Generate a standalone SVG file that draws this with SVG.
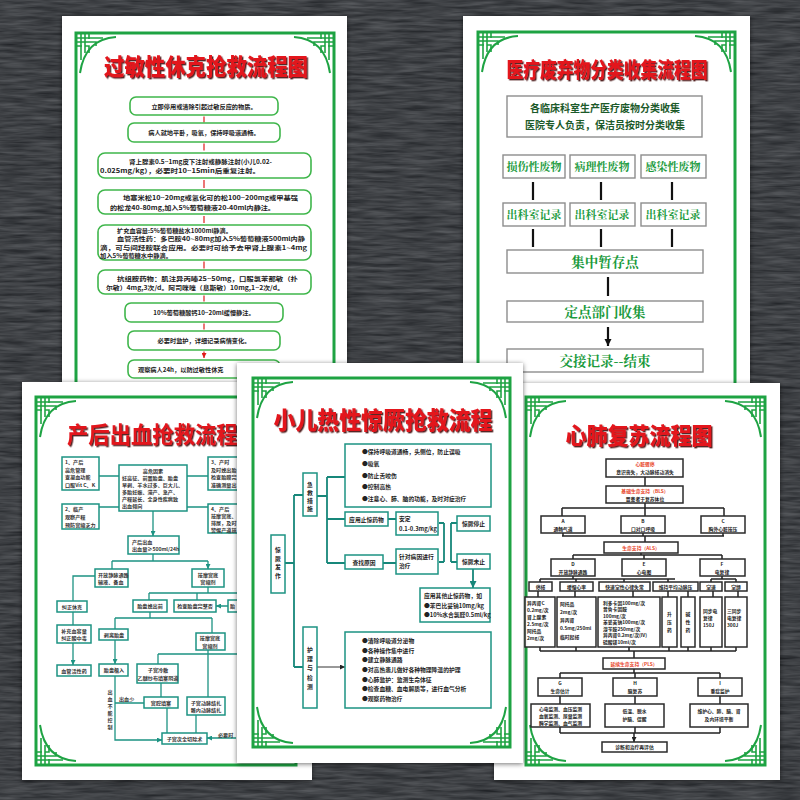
<svg xmlns="http://www.w3.org/2000/svg" xmlns:xlink="http://www.w3.org/1999/xlink" width="800" height="800" viewBox="0 0 800 800">
<style>
text{font-family:"Noto Sans CJK SC","Noto Sans",sans-serif;font-weight:700}
.paper{fill:#fff}
.gf{fill:none;stroke:#1ea343;stroke-width:3}
.gc{fill:none;stroke:#1ea343;stroke-width:1.6}
.ttl{font-weight:900;fill:#e3161d;text-anchor:middle}
.b1{fill:#fff;stroke:#3fb64b;stroke-width:1.6}
.t1{font-size:6.2px;fill:#222}
.t1s{font-size:5.8px;fill:#222}
.c{text-anchor:middle}
.b2{fill:#fff;stroke:#8d8d8d;stroke-width:1.4}
.t2a{font-size:10px;fill:#1c5a2a;text-anchor:middle}
.t2b{font-size:11px;fill:#1a9a3c;text-anchor:middle;font-family:"Noto Serif CJK SC","Noto Sans CJK SC",serif}
.t2c{font-size:13.5px;fill:#1a9a3c;text-anchor:middle;font-family:"Noto Serif CJK SC","Noto Sans CJK SC",serif}
.bt{fill:#fff;stroke:#1d9383;stroke-width:1.5}
.t3{font-size:5.1px;fill:#333}
.t4{font-size:5.8px;fill:#222}
.bk{fill:#fff;stroke:#2a2a2a;stroke-width:1.5}
.t5{font-size:4.8px;fill:#222}
.t5r{font-size:4.8px;fill:#e8452a}
.lr{fill:none;stroke:#e01b1b;stroke-width:1.2}
.lk{fill:none;stroke:#111;stroke-width:2.2}
.lt{fill:none;stroke:#1d9383;stroke-width:1.3}
.lt4{fill:none;stroke:#17877a;stroke-width:1.8}
.ld{fill:none;stroke:#222;stroke-width:1.5}
</style>
<defs>
<filter id="tex" x="0" y="0" width="100%" height="100%" color-interpolation-filters="sRGB">
<feTurbulence type="fractalNoise" baseFrequency="0.03 0.3" numOctaves="3" seed="7"/>
<feColorMatrix type="matrix" values="0.26 0 0 0 0.115  0.26 0 0 0 0.125  0.26 0 0 0 0.14  0 0 0 0 1"/>
</filter>
<filter id="sh" x="-10%" y="-10%" width="120%" height="120%">
<feDropShadow dx="0" dy="1" stdDeviation="2.5" flood-color="#000" flood-opacity="0.55"/>
</filter>
<filter id="tsh" x="-5%" y="-20%" width="110%" height="140%">
<feDropShadow dx="1.4" dy="1.4" stdDeviation="0.4" flood-color="#3a0000" flood-opacity="0.85"/>
</filter>
<marker id="aR" viewBox="0 0 10 10" refX="10" refY="5" markerWidth="5" markerHeight="5" markerUnits="userSpaceOnUse" orient="auto"><path d="M0,0 L10,5 L0,10z" fill="#e01b1b"/></marker>
<marker id="aK" viewBox="0 0 10 10" refX="10" refY="5" markerWidth="7" markerHeight="8" markerUnits="userSpaceOnUse" orient="auto"><path d="M0,0 L10,5 L0,10z" fill="#111"/></marker>
<marker id="aT" viewBox="0 0 10 10" refX="10" refY="5" markerWidth="5" markerHeight="5" markerUnits="userSpaceOnUse" orient="auto"><path d="M0,0 L10,5 L0,10z" fill="#1d9383"/></marker>
<marker id="aT4" viewBox="0 0 10 10" refX="10" refY="5" markerWidth="7" markerHeight="7" markerUnits="userSpaceOnUse" orient="auto"><path d="M0,0 L10,5 L0,10z" fill="#17877a"/></marker>
<marker id="aD" viewBox="0 0 10 10" refX="10" refY="5" markerWidth="5" markerHeight="5" markerUnits="userSpaceOnUse" orient="auto"><path d="M0,0 L10,5 L0,10z" fill="#222"/></marker>
<g id="cn">
<path class="gc" d="M0,5 H27 M0,9 H20 M0,13 H6 M5,0 V27 M9,0 V20 M13,0 V6 M13,9 H20 V13 M9,13 H13 V20"/>
<path d="M40,4 Q9,6 4,40" fill="none" stroke="#1ea343" stroke-width="2"/>
</g>
</defs>

<!-- background -->
<rect width="800" height="800" fill="#3b3e43"/>
<rect width="800" height="800" filter="url(#tex)"/>

<!-- ============ Poster 1 ============ -->
<g id="poster1">
<rect class="paper" x="62" y="16" width="285" height="380" filter="url(#sh)"/>
<rect class="gf" x="76" y="33" width="258" height="360"/>
<use href="#cn" transform="translate(76,33)"/>
<use href="#cn" transform="translate(334,33) scale(-1,1)"/>
<text class="ttl" x="206" y="75" font-size="23" textLength="204" lengthAdjust="spacingAndGlyphs" filter="url(#tsh)">过敏性休克抢救流程图</text>
<g id="p1-connectors">
<path class="lr" d="M204,116.5 V122.5 M204,143.5 V150.5 M204,180 V188 M204,216 V223 M204,261.5 V268.5 M204,295.5 V301.5 M204,323.5 V329.5 M204,351.5 V358" marker-end="url(#aR)"/>
</g>
<g id="p1-n1"><rect class="b1" x="130" y="97" width="148" height="18" rx="6"/><text class="t1 c" x="204" y="108.5">立即停用或清除引起过敏反应的物质。</text></g>
<g id="p1-n2"><rect class="b1" x="128" y="123" width="152" height="19" rx="6"/><text class="t1 c" x="204" y="135">病人就地平卧，吸氧，保持呼吸道通畅。</text></g>
<g id="p1-n3"><rect class="b1" x="98" y="153" width="213" height="25" rx="7"/>
<text class="t1" x="129" y="163.5" textLength="143" lengthAdjust="spacingAndGlyphs">肾上腺素0.5~1mg皮下注射或静脉注射(小儿0.02-</text>
<text class="t1" x="100" y="173" textLength="160" lengthAdjust="spacingAndGlyphs">0.025mg/kg），必要时10~15min后重复注射。</text></g>
<g id="p1-n4"><rect class="b1" x="98" y="190" width="213" height="24" rx="7"/>
<text class="t1" x="123" y="200" textLength="175" lengthAdjust="spacingAndGlyphs">地塞米松10~20mg或氢化可的松100~200mg或甲基强</text>
<text class="t1" x="110" y="209.5" textLength="165" lengthAdjust="spacingAndGlyphs">的松龙40-80mg,加入5%葡萄糖液20-40ml内静注。</text></g>
<g id="p1-n5"><rect class="b1" x="98" y="225" width="213" height="35" rx="7"/>
<text class="t1s" x="117" y="232.5" textLength="115" lengthAdjust="spacingAndGlyphs">扩充血容量:5%葡萄糖盐水1000ml静滴。</text>
<text class="t1s" x="117" y="241" textLength="188" lengthAdjust="spacingAndGlyphs">血管活性药：多巴胺40~80mg加入5%葡萄糖液500ml内静</text>
<text class="t1s" x="100" y="249.5" textLength="207" lengthAdjust="spacingAndGlyphs">滴，可与间羟胺联合应用。必要时可给予去甲肾上腺素1~4mg</text>
<text class="t1s" x="100" y="258" textLength="72" lengthAdjust="spacingAndGlyphs">加入5%葡萄糖水中静滴。</text></g>
<g id="p1-n6"><rect class="b1" x="98" y="270" width="213" height="24" rx="7"/>
<text class="t1" x="117" y="280.5" textLength="181" lengthAdjust="spacingAndGlyphs">抗组胺药物：肌注异丙嗪25~50mg，口服氯苯那敏（扑</text>
<text class="t1" x="106" y="290" textLength="178" lengthAdjust="spacingAndGlyphs">尔敏）4mg,3次/d。阿司咪唑（息斯敏）10mg,1~2次/d。</text></g>
<g id="p1-n7"><rect class="b1" x="125" y="303" width="158" height="19" rx="6"/><text class="t1 c" x="204" y="315">10%葡萄糖酸钙10~20ml缓慢静注。</text></g>
<g id="p1-n8"><rect class="b1" x="128" y="331" width="152" height="19" rx="6"/><text class="t1 c" x="204" y="343">必要时监护，详细记录病情变化。</text></g>
<g id="p1-n9"><rect class="b1" x="128" y="360" width="152" height="18" rx="6"/><text class="t1" x="138" y="371.5">观察病人24h，以防过敏性休克</text></g>
</g>

<!-- ============ Poster 2 ============ -->
<g id="poster2">
<rect class="paper" x="463" y="16" width="287" height="380" filter="url(#sh)"/>
<rect class="gf" x="478" y="32" width="257" height="360"/>
<use href="#cn" transform="translate(478,32)"/>
<use href="#cn" transform="translate(735,32) scale(-1,1)"/>
<text class="ttl" x="607" y="77" font-size="21" textLength="201" lengthAdjust="spacingAndGlyphs" filter="url(#tsh)">医疗废弃物分类收集流程图</text>
<g id="p2-connectors">
<path class="lk" d="M533,182 V200 M601,182 V200 M672,182 V200 M533,229 V247 M601,229 V247 M672,229 V247 M608,277 V296 M608,327 V346" marker-end="url(#aK)"/>
</g>
<g id="p2-n0"><rect class="b2" x="507" y="96" width="195" height="41"/>
<text class="t2a" x="605" y="112">各临床科室生产医疗废物分类收集</text>
<text class="t2a" x="605" y="129">医院专人负责，保洁员按时分类收集</text></g>
<g id="p2-n1"><rect class="b2" x="503" y="155" width="62" height="23"/><text class="t2b" x="534" y="170.5">损伤性废物</text></g>
<g id="p2-n2"><rect class="b2" x="570" y="155" width="65" height="23"/><text class="t2b" x="602" y="170.5">病理性废物</text></g>
<g id="p2-n3"><rect class="b2" x="641" y="155" width="65" height="23"/><text class="t2b" x="673" y="170.5">感染性废物</text></g>
<g id="p2-n4"><rect class="b2" x="503" y="203" width="62" height="23"/><text class="t2b" x="534" y="218.5">出科室记录</text></g>
<g id="p2-n5"><rect class="b2" x="570" y="203" width="65" height="23"/><text class="t2b" x="602" y="218.5">出科室记录</text></g>
<g id="p2-n6"><rect class="b2" x="641" y="203" width="65" height="23"/><text class="t2b" x="673" y="218.5">出科室记录</text></g>
<g id="p2-n7"><rect class="b2" x="507" y="250" width="196" height="23"/><text class="t2c" x="605" y="266.5">集中暂存点</text></g>
<g id="p2-n8"><rect class="b2" x="507" y="301" width="196" height="21"/><text class="t2c" x="605" y="316.5">定点部门收集</text></g>
<g id="p2-n9"><rect class="b2" x="507" y="349" width="196" height="23"/><text class="t2c" x="605" y="365.5">交接记录--结束</text></g>
</g>

<!-- ============ Poster 3 ============ -->
<g id="poster3">
<rect class="paper" x="22" y="382" width="290" height="398" filter="url(#sh)"/>
<rect class="gf" x="36" y="397" width="260" height="368"/>
<use href="#cn" transform="translate(36,397)"/>
<use href="#cn" transform="translate(36,765) scale(1,-1)"/>
<text x="67" y="443" font-size="23" font-weight="900" fill="#e3161d" textLength="192" lengthAdjust="spacingAndGlyphs" filter="url(#tsh)">产后出血抢救流程图</text>
<g id="p3-connectors">
<path class="lt" d="M119,476 H99 M119,507 H99 M187,476 H208 M187,507 H208 M153,511 V536" marker-end="url(#aT)"/>
<path class="lt" d="M153,554 V561 M112,561 H208"/>
<path class="lt" d="M112,561 V569 M208,561 V569" marker-end="url(#aT)"/>
<path class="lt" d="M95,576 H73 V601 M73,612 V625 M73,643 V665" marker-end="url(#aT)"/>
<path class="lt" d="M208,587 V593 M149,593 H240"/>
<path class="lt" d="M149,593 V600 M197,593 V600 M228,606 H216" marker-end="url(#aT)"/>
<path class="lt" d="M150,612 V618 M115,618 H212"/>
<path class="lt" d="M115,618 V629 M212,618 V633 M115,640 V664" marker-end="url(#aT)"/>
<path class="lt" d="M208,650 V697 M158,654 H240"/>
<path class="lt" d="M158,654 V664 M161,683 V697 M167,708 V733 M196,715 V733 M115,703 H144 M236,738 H207" marker-end="url(#aT)"/>
<path class="lt" d="M115,676 V740 H162" marker-end="url(#aT)"/>
</g>
<g id="p3-n1"><rect class="bt" x="62" y="457" width="37" height="33"/>
<text class="t3" x="65" y="464">1、产后</text><text class="t3" x="65" y="471.5">高危管理</text><text class="t3" x="65" y="479">查凝血功能</text><text class="t3" x="65" y="486.5">口服Vit C、K</text></g>
<g id="p3-n2"><rect class="bt" x="119" y="465" width="68" height="46"/>
<text class="t3 c" x="153" y="473">高危因素</text>
<text class="t3" x="122" y="480">妊高征、前置胎盘、胎盘</text>
<text class="t3" x="122" y="487">早剥、羊水过多、巨大儿、</text>
<text class="t3" x="122" y="494">多胎妊娠、滞产、急产、</text>
<text class="t3" x="122" y="501">产程延长、全身性疾病致</text>
<text class="t3" x="122" y="508">出血倾向</text></g>
<g id="p3-n3"><rect class="bt" x="62" y="504" width="37" height="25"/>
<text class="t3" x="65" y="511">2、临产</text><text class="t3" x="65" y="519">观察产程</text><text class="t3" x="65" y="527">预防宫缩乏力</text></g>
<g id="p3-n4"><rect class="bt" x="208" y="457" width="44" height="33"/>
<text class="t3" x="211" y="464">3、产时</text><text class="t3" x="211" y="471.5">及时娩出胎</text><text class="t3" x="211" y="479">检查胎膜完</text><text class="t3" x="211" y="486.5">准确测量出</text></g>
<g id="p3-n5"><rect class="bt" x="208" y="504" width="44" height="29"/>
<text class="t3" x="211" y="511">4、产后</text><text class="t3" x="211" y="518">按摩宫底、</text><text class="t3" x="211" y="525">排尿，及时</text><text class="t3" x="211" y="532">警惕产道损</text></g>
<g id="p3-n6"><rect class="bt" x="128" y="536" width="51" height="18"/>
<text class="t3" x="132" y="543.5">产后出血</text><text class="t3" x="132" y="551">出血量≥500ml/24h</text></g>
<g id="p3-n7"><rect class="bt" x="95" y="569" width="33" height="18"/>
<text class="t3" x="98" y="576.5">开放静脉通路</text><text class="t3" x="98" y="584">输液、备血</text></g>
<g id="p3-n8"><rect class="bt" x="192" y="569" width="32" height="18"/>
<text class="t3 c" x="208" y="576.5">按摩宫底</text><text class="t3 c" x="208" y="584">宫缩剂</text></g>
<g id="p3-n9"><rect class="bt" x="57" y="601" width="30" height="11"/><text class="t3 c" x="72" y="608.5">纠正休克</text></g>
<g id="p3-n10"><rect class="bt" x="57" y="625" width="34" height="18"/>
<text class="t3 c" x="74" y="632.5">补充血容量</text><text class="t3 c" x="74" y="640">纠正酸中毒</text></g>
<g id="p3-n11"><rect class="bt" x="57" y="665" width="34" height="11"/><text class="t3 c" x="74" y="672.5">血管活性药</text></g>
<g id="p3-n12"><rect class="bt" x="133" y="600" width="34" height="12"/><text class="t3 c" x="150" y="608">胎盘娩出前</text></g>
<g id="p3-n13"><rect class="bt" x="174" y="600" width="42" height="12"/><text class="t3 c" x="195" y="608">检查胎盘完整否</text></g>
<g id="p3-n14"><rect class="bt" x="228" y="600" width="30" height="12"/><text class="t3" x="230" y="608">胎</text></g>
<g id="p3-n15"><rect class="bt" x="99" y="629" width="29" height="11"/><text class="t3 c" x="114" y="636.5">剥离胎盘</text></g>
<g id="p3-n16"><rect class="bt" x="196" y="633" width="29" height="17"/>
<text class="t3 c" x="210" y="640">按摩宫底</text><text class="t3 c" x="210" y="647.5">宫缩剂</text></g>
<g id="p3-n17"><rect class="bt" x="99" y="664" width="29" height="12"/><text class="t3 c" x="114" y="672">胎盘植入</text></g>
<g id="p3-n18"><rect class="bt" x="137" y="664" width="41" height="19"/>
<text class="t3 c" x="158" y="671.5">子宫冷敷</text><text class="t3 c" x="158" y="679.5">乙醚纱布填塞阴道</text></g>
<g id="p3-n19"><rect class="bt" x="144" y="697" width="34" height="11"/><text class="t3 c" x="161" y="704.5">宫腔填塞</text></g>
<g id="p3-n20"><rect class="bt" x="187" y="697" width="38" height="18"/>
<text class="t3 c" x="206" y="704.5">子宫动脉结扎</text><text class="t3 c" x="206" y="712">髂内动脉结扎</text></g>
<g id="p3-n21"><rect class="bt" x="162" y="733" width="45" height="11"/><text class="t3 c" x="184.5" y="740.5">子宫次全切除术</text></g>
<text class="t3" x="119" y="701">出血少</text>
<text class="t3" x="218" y="737">必要时</text>
<text class="t3 c"><tspan x="110" y="694">出</tspan><tspan x="110" y="701">血</tspan><tspan x="110" y="708">不</tspan><tspan x="110" y="715">能</tspan><tspan x="110" y="722">控</tspan><tspan x="110" y="729">制</tspan></text>
</g>

<!-- ============ Poster 5 ============ -->
<g id="poster5">
<rect class="paper" x="494" y="383" width="286" height="397" filter="url(#sh)"/>
<rect class="gf" x="526" y="397" width="239" height="368"/>
<use href="#cn" transform="translate(765,397) scale(-1,1)"/>
<use href="#cn" transform="translate(526,397)"/>
<use href="#cn" transform="translate(765,765) scale(-1,-1)"/>
<use href="#cn" transform="translate(526,765) scale(1,-1)"/>
<text class="ttl" x="639" y="444" font-size="23" textLength="147" lengthAdjust="spacingAndGlyphs" filter="url(#tsh)">心肺复苏流程图</text>
<g id="p5-connectors">
<path class="ld" d="M645,477 V486 M562,508 V516 M645,508 V516 M724,508 V516 M645,536 V542 M573,555 V559 M644,555 V559 M722,555 V559 M540,579 V582 M576,579 V582 M624,579 V582 M668,579 V582 M711,579 V582 M736,579 V582 M538,591 V597 M575,591 V597 M633,591 V597 M668,591 V597 M688,591 V597 M713,591 V597 M738,591 V597 M634,651 V658 M560,673 V678 M635,673 V678 M720,673 V678 M560,696 V704 M635,696 V704 M720,696 V704 M634,733 V742" marker-end="url(#aD)"/>
<path class="ld" d="M645,503 V508 M562,508 H724 M563,533 V536 M643,533 V536 M723,533 V536 M562,536 H724 M641,553 V555 M573,555 H722 M573,576 V579 M540,579 H675 M722,576 V579 M711,579 H736 M540,647 V651 M576,647 V651 M629,647 V651 M669,647 V651 M688,647 V651 M711,647 V651 M736,647 V651 M540,651 H736 M634,669 V673 M560,673 H720 M560,727 V733 M635,727 V733 M720,727 V733 M560,733 H720"/>
</g>
<g id="p5-n1"><rect class="bk" x="606" y="459" width="77" height="18"/><text class="t5r c" x="645" y="466">心脏骤停</text><text class="t5 c" x="645" y="474">意识丧失，大动脉搏动消失</text></g>
<g id="p5-n2"><rect class="bk" x="606" y="486" width="77" height="17"/><text class="t5r c" x="645" y="493">基础生命支持（BLS）</text><text class="t5 c" x="645" y="500.5">置患者于复苏体位</text></g>
<g id="p5-nA"><rect class="bk" x="541" y="516" width="44" height="17"/><text class="t5 c" x="563" y="523">A</text><text class="t5 c" x="563" y="530.5">通畅气道</text></g>
<g id="p5-nB"><rect class="bk" x="621" y="516" width="44" height="17"/><text class="t5 c" x="643" y="523">B</text><text class="t5 c" x="643" y="530.5">口对口呼吸</text></g>
<g id="p5-nC"><rect class="bk" x="701" y="516" width="44" height="17"/><text class="t5 c" x="723" y="523">C</text><text class="t5 c" x="723" y="530.5">胸外心脏按压</text></g>
<g id="p5-n3"><rect class="bk" x="604" y="542" width="74" height="11"/><text class="t5r c" x="641" y="549.5">生命支持（ALS）</text></g>
<g id="p5-nD"><rect class="bk" x="551" y="559" width="44" height="17"/><text class="t5 c" x="573" y="566">D</text><text class="t5 c" x="573" y="573.5">开放静脉通路</text></g>
<g id="p5-nE"><rect class="bk" x="622" y="559" width="44" height="17"/><text class="t5 c" x="644" y="566">E</text><text class="t5 c" x="644" y="573.5">心电图</text></g>
<g id="p5-nF"><rect class="bk" x="700" y="559" width="45" height="17"/><text class="t5 c" x="722" y="566">F</text><text class="t5 c" x="722" y="573.5">电复律</text></g>
<g id="p5-s1"><rect class="bk" x="529" y="582" width="23" height="9"/><text class="t5 c" x="540.5" y="588.5">停搏</text></g>
<g id="p5-s2"><rect class="bk" x="560" y="582" width="33" height="9"/><text class="t5 c" x="576.5" y="588.5">缓慢心率</text></g>
<g id="p5-s3"><rect class="bk" x="599" y="582" width="51" height="9"/><text class="t5 c" x="624.5" y="588.5">快速室性心律失常</text></g>
<g id="p5-s4"><rect class="bk" x="653" y="582" width="45" height="9"/><text class="t5 c" x="675.5" y="588.5">维持平均动脉压</text></g>
<g id="p5-s5"><rect class="bk" x="700" y="582" width="22" height="9"/><text class="t5 c" x="711" y="588.5">室速</text></g>
<g id="p5-s6"><rect class="bk" x="725" y="582" width="22" height="9"/><text class="t5 c" x="736" y="588.5">室颤</text></g>
<g id="p5-x1"><rect class="bk" x="525" y="597" width="30" height="50"/>
<text class="t5" x="527" y="605">异丙肾C</text><text class="t5" x="527" y="612">0.2mg/次</text><text class="t5" x="527" y="619">肾上腺素</text><text class="t5" x="527" y="626">2.5mg/次</text><text class="t5" x="527" y="633">阿托品</text><text class="t5" x="527" y="640">2mg/次</text></g>
<g id="p5-x2"><rect class="bk" x="557" y="597" width="39" height="50"/>
<text class="t5" x="560" y="606">阿托品</text><text class="t5" x="560" y="614">2mg/次</text><text class="t5" x="560" y="622">异丙肾</text><text class="t5" x="560" y="630">0.5mg/250ml</text><text class="t5" x="560" y="639">临时起搏</text></g>
<g id="p5-x3"><rect class="bk" x="598" y="597" width="62" height="50"/>
<text class="t5" x="603" y="604.5">利多卡因100mg/次</text><text class="t5" x="603" y="611">普鲁卡因胺</text><text class="t5" x="603" y="617.5">100mg/次</text><text class="t5" x="603" y="624">苯妥英钠100mg/次</text><text class="t5" x="603" y="630.5">溴苄胺250mg/次</text><text class="t5" x="603" y="637">异丙肾0.2mg/次(IV)</text><text class="t5" x="603" y="643.5">硫酸镁10ml/次</text></g>
<g id="p5-x4"><rect class="bk" x="662" y="597" width="15" height="50"/>
<text class="t5 c" font-size="6"><tspan x="669.5" y="616">升</tspan><tspan x="669.5" y="624">压</tspan><tspan x="669.5" y="632">药</tspan></text></g>
<g id="p5-x5"><rect class="bk" x="681" y="597" width="14" height="50"/>
<text class="t5 c" font-size="6"><tspan x="688" y="616">碱</tspan><tspan x="688" y="624">性</tspan><tspan x="688" y="632">药</tspan></text></g>
<g id="p5-x6"><rect class="bk" x="700" y="597" width="22" height="50"/>
<text class="t5" x="703" y="613">同步电</text><text class="t5" x="703" y="620">复律</text><text class="t5" x="703" y="627">150J</text></g>
<g id="p5-x7"><rect class="bk" x="725" y="597" width="22" height="50"/>
<text class="t5" x="727" y="613">三同步</text><text class="t5" x="727" y="620">电复律</text><text class="t5" x="727" y="627">300J</text></g>
<g id="p5-n4"><rect class="bk" x="603" y="658" width="62" height="11"/><text class="t5r c" x="634" y="665.5">延续生命支持（PLS）</text></g>
<g id="p5-nG"><rect class="bk" x="538" y="678" width="44" height="18"/><text class="t5 c" x="560" y="685">G</text><text class="t5 c" x="560" y="693">生命估计</text></g>
<g id="p5-nH"><rect class="bk" x="613" y="678" width="44" height="18"/><text class="t5 c" x="635" y="685">H</text><text class="t5 c" x="635" y="693">脑复苏</text></g>
<g id="p5-nI"><rect class="bk" x="698" y="678" width="44" height="18"/><text class="t5 c" x="720" y="685">I</text><text class="t5 c" x="720" y="693">重症监护</text></g>
<g id="p5-m1"><rect class="bk" x="531" y="704" width="59" height="23"/>
<text class="t5 c" x="560.5" y="711">心电监测、血压监测</text><text class="t5 c" x="560.5" y="718">血氧监测、尿量监测</text><text class="t5 c" x="560.5" y="725">酶学监测、血气监测</text></g>
<g id="p5-m2"><rect class="bk" x="605" y="704" width="59" height="23"/>
<text class="t5 c" x="634.5" y="713">低温、脱水</text><text class="t5 c" x="634.5" y="721">护脑、促醒</text></g>
<g id="p5-m3"><rect class="bk" x="690" y="704" width="58" height="23"/>
<text class="t5 c" x="719" y="713">维护心、肺、脑、肾</text><text class="t5 c" x="719" y="721">及内环境平衡</text></g>
<g id="p5-n5"><rect class="bk" x="602" y="742" width="65" height="10"/><text class="t5 c" x="634.5" y="749">诊断和治疗再评估</text></g>
</g>

<!-- ============ Poster 4 (front) ============ -->
<g id="poster4">
<rect class="paper" x="237" y="363" width="286" height="400" filter="url(#sh)"/>
<rect class="gf" x="253" y="378" width="257" height="369"/>
<use href="#cn" transform="translate(253,378)"/>
<use href="#cn" transform="translate(510,378) scale(-1,1)"/>
<use href="#cn" transform="translate(253,747) scale(1,-1)"/>
<use href="#cn" transform="translate(510,747) scale(-1,-1)"/>
<text class="ttl" x="383" y="429" font-size="24" textLength="219" lengthAdjust="spacingAndGlyphs" filter="url(#tsh)">小儿热性惊厥抢救流程</text>
<g id="p4-connectors">
<path class="lt4" d="M285,563 H294 M294,495 V667 M317,496 H327 M327,477 V563 M444,523 V562 M451,523 V562"/>
<path class="lt4" d="M294,495 H303 M294,667 H303 M327,477 H345 M327,519 H345 M327,563 H345 M388,519 H396 M383,563 H396 M444,523 H439 M444,562 H439 M451,523 H457 M451,562 H457 M473,569 V588" marker-end="url(#aT4)"/>
<path d="M317,667 H345" fill="none" stroke="#333" stroke-width="1" marker-end="url(#aD)"/>
</g>
<g id="p4-n1"><rect class="bt" x="345" y="444" width="146" height="63" stroke="#17877a" stroke-width="1.8"/>
<text class="t4" x="362" y="454">●保持呼吸道通畅，头侧位，防止误吸</text>
<text class="t4" x="362" y="466">●吸氧</text>
<text class="t4" x="362" y="478">●防止舌咬伤</text>
<text class="t4" x="362" y="489">●控制高热</text>
<text class="t4" x="362" y="500.5">●注意心、肺、脑的功能，及时对症治疗</text></g>
<g id="p4-n2"><rect class="bt" x="303" y="473" width="14" height="43" stroke="#17877a" stroke-width="1.8"/>
<text class="t4 c"><tspan x="310" y="487">急</tspan><tspan x="310" y="495">救</tspan><tspan x="310" y="503">措</tspan><tspan x="310" y="511">施</tspan></text></g>
<g id="p4-n3"><rect class="bt" x="271" y="535" width="14" height="58" stroke="#17877a" stroke-width="1.8"/>
<text class="t4 c"><tspan x="278" y="552">惊</tspan><tspan x="278" y="560.5">厥</tspan><tspan x="278" y="569">发</tspan><tspan x="278" y="577.5">作</tspan></text></g>
<g id="p4-n4"><rect class="bt" x="345" y="512" width="43" height="14" stroke="#17877a" stroke-width="1.8"/><text class="t4 c" x="366.5" y="521.5">应用止惊药物</text></g>
<g id="p4-n5"><rect class="bt" x="396" y="512" width="42" height="23" stroke="#17877a" stroke-width="1.8"/><text class="t4" x="399" y="521">安定</text><text class="t4" x="399" y="530.5">0.1-0.3mg/kg</text></g>
<g id="p4-n6"><rect class="bt" x="345" y="555" width="38" height="14" stroke="#17877a" stroke-width="1.8"/><text class="t4 c" x="364" y="564.5">查找原因</text></g>
<g id="p4-n7"><rect class="bt" x="396" y="549" width="42" height="25" stroke="#17877a" stroke-width="1.8"/><text class="t4" x="399" y="558.5">针对病因进行</text><text class="t4" x="399" y="568">治疗</text></g>
<g id="p4-n8"><rect class="bt" x="457" y="516" width="33" height="15" stroke="#17877a" stroke-width="1.8"/><text class="t4 c" x="473.5" y="525.5">惊厥停止</text></g>
<g id="p4-n9"><rect class="bt" x="457" y="554" width="33" height="15" stroke="#17877a" stroke-width="1.8"/><text class="t4 c" x="473.5" y="563.5">惊厥未止</text></g>
<g id="p4-n10"><rect class="bt" x="420" y="588" width="70" height="34" stroke="#17877a" stroke-width="1.8"/>
<text class="t4" x="424" y="597.5">应用其他止惊药物，如</text>
<text class="t4" x="424" y="607.5">●苯巴比妥钠10mg/kg</text>
<text class="t4" x="424" y="617">●10%水合氯醛0.5ml/kg</text></g>
<g id="p4-n11"><rect class="bt" x="303" y="627" width="14" height="81" stroke="#17877a" stroke-width="1.8"/>
<text class="t4 c"><tspan x="310" y="652">护</tspan><tspan x="310" y="661">理</tspan><tspan x="310" y="670">与</tspan><tspan x="310" y="679.5">检</tspan><tspan x="310" y="689">测</tspan></text></g>
<g id="p4-n12"><rect class="bt" x="345" y="632" width="146" height="76" stroke="#17877a" stroke-width="1.8"/>
<text class="t4" x="362" y="643">●清除呼吸道分泌物</text>
<text class="t4" x="362" y="652.5">●各种操作集中进行</text>
<text class="t4" x="362" y="662">●建立静脉通路</text>
<text class="t4" x="362" y="672">●对高热患儿做好各种物理降温的护理</text>
<text class="t4" x="362" y="681.5">●心肺监护：监测生命体征</text>
<text class="t4" x="362" y="691">●检查血糖、血电解质等，进行血气分析</text>
<text class="t4" x="362" y="701">●观察药物治疗</text></g>
</g>
</svg>
